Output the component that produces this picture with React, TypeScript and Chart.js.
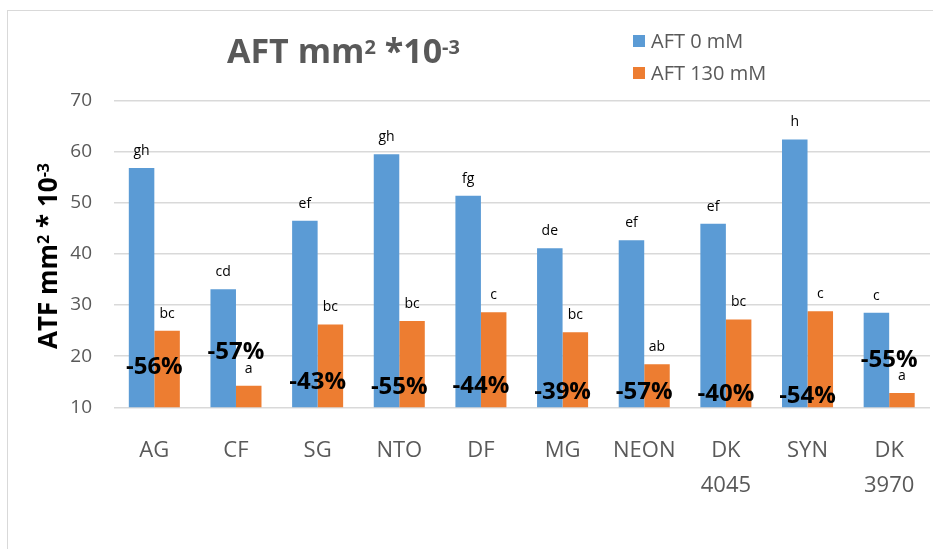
import React, { useEffect, useRef } from 'react';
import { Chart, registerables } from 'chart.js';

Chart.register(...registerables);

// ---- data ----
const categories: (string | string[])[] = ['AG', 'CF', 'SG', 'NTO', 'DF', 'MG', 'NEON', ['DK', '4045'], 'SYN', ['DK', '3970']];
const seriesNames = ['AFT 0 mM', 'AFT 130 mM'];
const aft0 = [56.8, 33.1, 46.5, 59.5, 51.4, 41.1, 42.7, 45.9, 62.4, 28.5];
const aft130 = [25.0, 14.2, 26.2, 26.9, 28.6, 24.7, 18.4, 27.2, 28.8, 12.8];
const letters0 = ['gh', 'cd', 'ef', 'gh', 'fg', 'de', 'ef', 'ef', 'h', 'c'];
const letters130 = ['bc', 'a', 'bc', 'bc', 'c', 'bc', 'ab', 'bc', 'c', 'a'];
const pctLabels = ['-56%', '-57%', '-43%', '-55%', '-44%', '-39%', '-57%', '-40%', '-54%', '-55%'];
const pctLabelAt = [17.9, 20.8, 14.9, 13.9, 14.1, 12.9, 12.9, 12.5, 12.1, 19.2];
const yMin = 10;
const yMax = 70;
const yStep = 10;

// ---- styles ----
const BLUE = '#5B9BD5';
const ORANGE = '#ED7D31';
const GRAY = '#595959';
const FONT = '"Open Sans", "DejaVu Sans", sans-serif';

type Part = { t: string; sup?: boolean };

function drawRich(ctx: CanvasRenderingContext2D, parts: Part[], x: number, y: number, size: number, supSize: number, supRise: number, weight: string, centered: boolean) {
  const widths = parts.map(p => {
    ctx.font = `${weight} ${p.sup ? supSize : size}px ${FONT}`;
    return ctx.measureText(p.t).width;
  });
  const total = widths.reduce((a, b) => a + b, 0);
  let cx = centered ? x - total / 2 : x;
  ctx.textAlign = 'left';
  ctx.textBaseline = 'alphabetic';
  parts.forEach((p, i) => {
    ctx.font = `${weight} ${p.sup ? supSize : size}px ${FONT}`;
    ctx.fillText(p.t, cx, p.sup ? y - supRise : y);
    cx += widths[i];
  });
}

const overlay = {
  id: 'overlay',
  afterDatasetsDraw(chart: any) {
    const ctx: CanvasRenderingContext2D = chart.ctx;
    const y = chart.scales.y;
    ctx.save();

    // letters above bars
    ctx.fillStyle = '#000';
    ctx.font = `14px ${FONT}`;
    ctx.textAlign = 'center';
    ctx.textBaseline = 'middle';
    [letters0, letters130].forEach((arr, di) => {
      const meta = chart.getDatasetMeta(di);
      arr.forEach((l, i) => {
        const el = meta.data[i];
        ctx.fillText(l, el.x, el.y - 17);
      });
    });

    // percent labels
    ctx.font = `bold 24px ${FONT}`;
    const m0 = chart.getDatasetMeta(0);
    const m1 = chart.getDatasetMeta(1);
    pctLabels.forEach((p, i) => {
      const cx = (m0.data[i].x + m1.data[i].x) / 2;
      ctx.fillText(p, cx, y.getPixelForValue(pctLabelAt[i]));
    });
    ctx.restore();
  },
  afterDraw(chart: any) {
    const ctx: CanvasRenderingContext2D = chart.ctx;
    ctx.save();
    // frame
    ctx.strokeStyle = '#d9d9d9';
    ctx.lineWidth = 1;
    ctx.strokeRect(7.5, 10.5, 1000, 1000);

    // title
    ctx.fillStyle = GRAY;
    drawRich(ctx, [{ t: 'AFT mm' }, { t: '2', sup: true }, { t: ' *10' }, { t: '-3', sup: true }], 227, 63, 34, 20, 9, 'bold', false);

    // legend
    const colors = [BLUE, ORANGE];
    const rowsY = [35, 67];
    seriesNames.forEach((n, i) => {
      ctx.fillStyle = colors[i];
      ctx.fillRect(633, rowsY[i], 12, 12);
      ctx.fillStyle = GRAY;
      ctx.font = `20px ${FONT}`;
      ctx.textAlign = 'left';
      ctx.textBaseline = 'alphabetic';
      ctx.fillText(n, 651, rowsY[i] + 13);
    });

    // y axis title
    ctx.fillStyle = '#000';
    ctx.translate(57, 256);
    ctx.rotate(-Math.PI / 2);
    drawRich(ctx, [{ t: 'ATF mm' }, { t: '2', sup: true }, { t: ' * 10' }, { t: '-3', sup: true }], 0, 0, 26, 16, 8, 'bold', true);
    ctx.restore();
  },
};

export default function App() {
  const ref = useRef<HTMLCanvasElement>(null);
  useEffect(() => {
    const canvas = ref.current!;
    const chart = new Chart(canvas, {
      type: 'bar',
      data: {
        labels: categories as any,
        datasets: [
          { label: seriesNames[0], data: aft0, backgroundColor: BLUE, categoryPercentage: 0.625, barPercentage: 1 },
          { label: seriesNames[1], data: aft130, backgroundColor: ORANGE, categoryPercentage: 0.625, barPercentage: 1 },
        ],
      },
      options: {
        responsive: false,
        animation: false,
        layout: { padding: { top: 100.6, right: 3, left: 0, bottom: 0 } },
        plugins: {
          legend: { display: false },
          title: { display: false },
          tooltip: { enabled: false },
        },
        scales: {
          x: {
            grid: { display: false },
            border: { display: false },
            ticks: {
              color: GRAY,
              font: { family: FONT, size: 22, lineHeight: 35 / 22 },
              padding: 18,
              maxRotation: 0,
              autoSkip: false,
            },
            afterFit: (s: any) => { s.height = 141.7; },
          },
          y: {
            min: yMin,
            max: yMax,
            ticks: { stepSize: yStep, color: GRAY, font: { family: FONT, size: 19 }, padding: 21.5 },
            grid: { color: '#d9d9d9', lineWidth: 1.5, drawTicks: false },
            border: { display: false },
            afterFit: (s: any) => { s.width = 113.5; },
          },
        },
      },
      plugins: [overlay],
    } as any);
    return () => chart.destroy();
  }, []);
  return (
    <div style={{ position: 'fixed', left: 0, top: 0, width: 933, height: 549, background: '#fff' }}>
      <canvas ref={ref} width={933} height={549} style={{ display: 'block' }} />
    </div>
  );
}
